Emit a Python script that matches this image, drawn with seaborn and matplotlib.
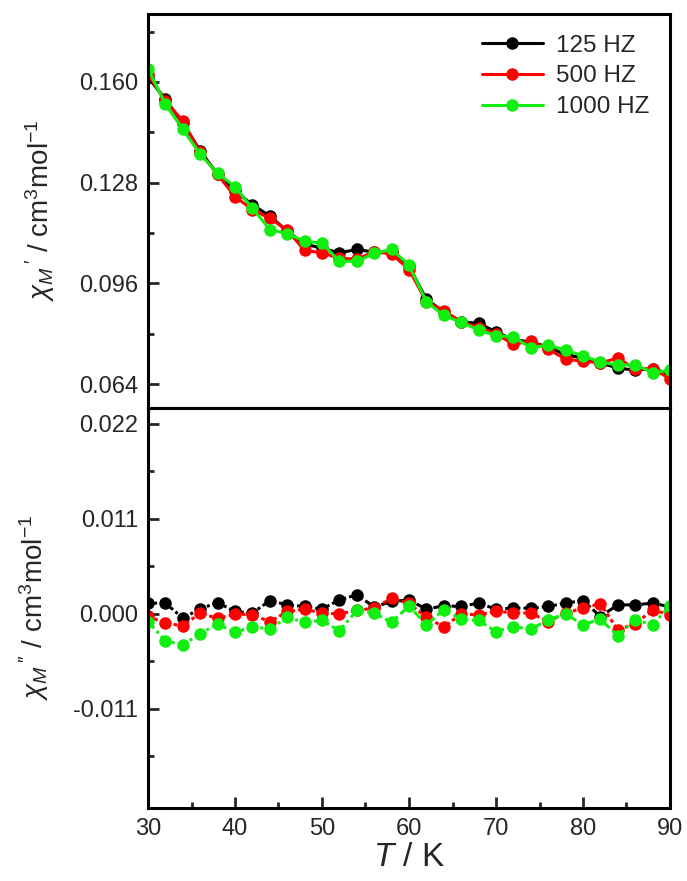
import numpy as np
import pandas as pd
import matplotlib
matplotlib.use("Agg")
import matplotlib.pyplot as plt
from matplotlib.ticker import FixedLocator, FormatStrFormatter
import seaborn as sns

# ---------------- data ----------------
T = [30, 32, 34, 36, 38, 40, 42, 44, 46, 48, 50, 52, 54, 56, 58, 60,
     62, 64, 66, 68, 70, 72, 74, 76, 78, 80, 82, 84, 86, 88, 90]

chi1_125 = [0.1615, 0.1545, 0.1469, 0.1382, 0.1306, 0.1254, 0.1210, 0.1174, 0.1126, 0.1085,
            0.1072, 0.1057, 0.1068, 0.1059, 0.1059, 0.1015, 0.0909, 0.0870, 0.0838, 0.0833,
            0.0806, 0.0781, 0.0774, 0.0758, 0.0733, 0.0723, 0.0707, 0.0691, 0.0684, 0.0689, 0.0672]
chi1_500 = [0.1625, 0.1540, 0.1476, 0.1376, 0.1306, 0.1236, 0.1194, 0.1167, 0.1129, 0.1065,
            0.1057, 0.1040, 0.1037, 0.1060, 0.1054, 0.1004, 0.0902, 0.0873, 0.0838, 0.0819,
            0.0800, 0.0766, 0.0777, 0.0751, 0.0719, 0.0713, 0.0707, 0.0723, 0.0688, 0.0689, 0.0657]
chi1_1000 = [0.1642, 0.1529, 0.1450, 0.1370, 0.1310, 0.1267, 0.1199, 0.1131, 0.1118, 0.1094,
             0.1088, 0.1030, 0.1030, 0.1055, 0.1068, 0.1018, 0.0902, 0.0858, 0.0836, 0.0812,
             0.0794, 0.0790, 0.0755, 0.0764, 0.0748, 0.0730, 0.0710, 0.0700, 0.0702, 0.0676, 0.0684]

chi2_125 = [0.00124, 0.00124, -0.00050, 0.00058, 0.00131, 0.00027, 0.00008, 0.00154, 0.00104, 0.00085,
            0.00054, 0.00162, 0.00220, 0.00080, 0.00143, 0.00160, 0.00054, 0.00093, 0.00085, 0.00124,
            0.00054, 0.00066, 0.00066, 0.00085, 0.00124, 0.00154, -0.00031, 0.00104, 0.00104, 0.00124, 0.00080]
chi2_500 = [-0.00030, -0.00108, -0.00139, 0.00008, -0.00054, -0.00004, -0.00008, -0.00093, 0.00027, 0.00054,
            0.00008, 0.00000, 0.00040, 0.00066, 0.00181, 0.00120, -0.00039, -0.00154, 0.00000, -0.00012,
            0.00027, 0.00015, 0.00008, -0.00089, 0.00008, 0.00066, 0.00116, -0.00185, -0.00116, 0.00046, -0.00010]
chi2_1000 = [-0.00089, -0.00313, -0.00359, -0.00232, -0.00116, -0.00216, -0.00147, -0.00178, -0.00039, -0.00100,
             -0.00077, -0.00197, 0.00039, 0.00008, -0.00100, 0.00093, -0.00127, 0.00046, -0.00062, -0.00077,
             -0.00205, -0.00147, -0.00178, -0.00070, 0.00000, -0.00127, -0.00062, -0.00255, -0.00070, -0.00127, 0.00093]

freqs = ["125 HZ", "500 HZ", "1000 HZ"]
colors = ["#000000", "#FF0000", "#11EE11"]

top_ticks = [0.064, 0.096, 0.128, 0.160]
bot_ticks = [-0.011, 0.000, 0.011, 0.022]
x_ticks = [30, 40, 50, 60, 70, 80, 90]

rows = []
for f, a, b in zip(freqs, [chi1_125, chi1_500, chi1_1000], [chi2_125, chi2_500, chi2_1000]):
    for t, v1, v2 in zip(T, a, b):
        rows.append({"T": t, "freq": f, "chi1": v1, "chi2": v2})
df = pd.DataFrame(rows)

# ---------------- style ----------------
sns.set_style("ticks")
plt.rcParams["font.family"] = ["Liberation Sans", "DejaVu Sans"]
plt.rcParams["mathtext.fontset"] = "custom"
plt.rcParams["mathtext.rm"] = "Liberation Sans"
plt.rcParams["mathtext.it"] = "Liberation Sans:italic"
plt.rcParams["axes.unicode_minus"] = False

fig = plt.figure(figsize=(6.87, 8.81), dpi=100)
left, right = 148 / 687, 670 / 687
y_top, y_mid, y_bot = 1 - 14 / 881, 1 - 408 / 881, 1 - 808 / 881
ax1 = fig.add_axes([left, y_mid, right - left, y_top - y_mid])
ax2 = fig.add_axes([left, y_bot, right - left, y_mid - y_bot], sharex=ax1)

palette = dict(zip(freqs, colors))

sns.lineplot(data=df, x="T", y="chi1", hue="freq", hue_order=freqs, palette=palette,
             marker="o", markersize=9, markeredgewidth=0, linewidth=2.2, ax=ax1,
             sort=False)
dashes = {"125 HZ": (3, 1, 1, 1), "500 HZ": (1.2, 1), "1000 HZ": (3, 1.2, 1, 1.2)}
sns.lineplot(data=df, x="T", y="chi2", hue="freq", hue_order=freqs, palette=palette,
             style="freq", style_order=freqs, dashes=dashes,
             markers={f: "o" for f in freqs}, markersize=9, markeredgewidth=0,
             linewidth=2.2, ax=ax2, sort=False, legend=False)

# axes limits & ticks
ax1.set_xlim(30, 90)
ax1.set_ylim(0.0564, 0.1816)
ax2.set_ylim(-0.0225, 0.02385)

ax1.yaxis.set_major_locator(FixedLocator(top_ticks))
ax1.yaxis.set_minor_locator(FixedLocator([0.080, 0.112, 0.144, 0.176]))
ax1.yaxis.set_major_formatter(FormatStrFormatter("%.3f"))
ax2.yaxis.set_major_locator(FixedLocator(bot_ticks))
ax2.yaxis.set_minor_locator(FixedLocator([-0.0165, -0.0055, 0.0055, 0.0165]))
ax2.yaxis.set_major_formatter(FormatStrFormatter("%.3f"))
ax2.xaxis.set_major_locator(FixedLocator(x_ticks))
ax2.xaxis.set_minor_locator(FixedLocator([35, 45, 55, 65, 75, 85]))

for ax in (ax1, ax2):
    for s in ax.spines.values():
        s.set_visible(True)
        s.set_linewidth(2.2)
        s.set_color("black")
    ax.tick_params(axis="both", which="major", direction="in", length=8, width=2,
                   labelsize=17, pad=7, top=False, right=False)
    ax.tick_params(axis="both", which="minor", direction="in", length=4.5, width=2,
                   top=False, right=False)

ax1.tick_params(axis="x", which="both", bottom=False, labelbottom=False)
ax1.set_xlabel("")

ax1.set_ylabel(r"$\chi_M\,'$ / cm$^3$mol$^{-1}$", fontsize=20, labelpad=16)
ax2.set_ylabel(r"$\chi_M\,''$ / cm$^3$mol$^{-1}$", fontsize=20, labelpad=16)
ax2.set_xlabel(r"$T$ / K", fontsize=24, labelpad=2)

leg = ax1.legend(loc="upper right", frameon=False, fontsize=17.5, handlelength=2.5,
                 handletextpad=0.55, labelspacing=0.36, borderaxespad=0.45)
for h in leg.legend_handles:
    h.set_linewidth(2.2)
    h.set_markersize(9)

fig.savefig("out.png", dpi=100)
